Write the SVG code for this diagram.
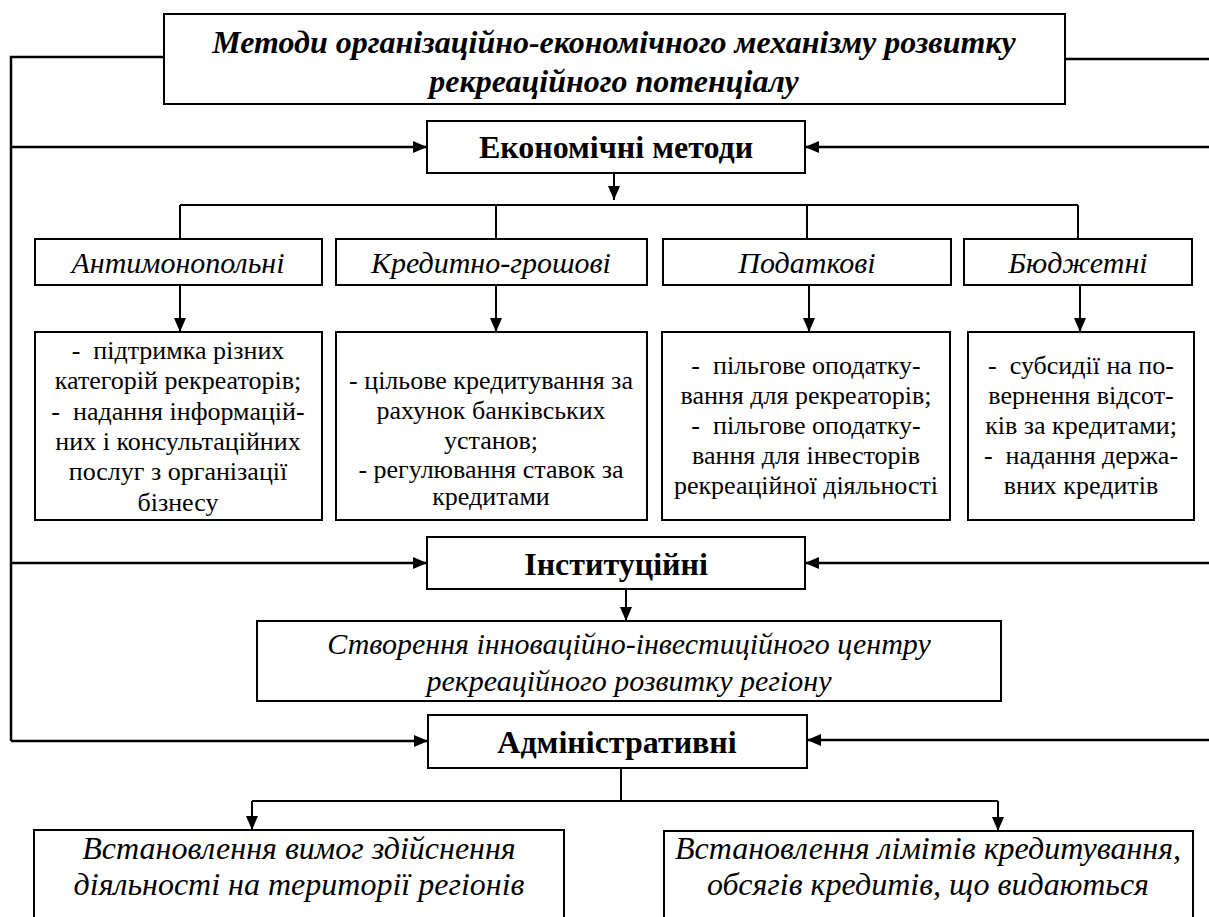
<svg xmlns="http://www.w3.org/2000/svg" width="1209" height="917" viewBox="0 0 1209 917">
<style>
.box{fill:#fff;stroke:#000;stroke-width:2}
.ln{fill:none;stroke:#000;stroke-width:2}
.lw{fill:none;stroke:#000;stroke-width:2.5}
text{font-family:"Liberation Serif","Times New Roman",serif;fill:#000;text-anchor:middle;white-space:pre}
.ti{font-size:32px;font-weight:bold;font-style:italic}
.hb{font-size:32px;font-weight:bold}
.it{font-size:30px;font-style:italic}
.ib{font-size:32px;font-style:italic}
.rg{font-size:26px}
</style>
<defs>
<marker id="ah" markerUnits="userSpaceOnUse" markerWidth="14" markerHeight="12" refX="14" refY="6" orient="auto">
<path d="M0,0 L14,6 L0,12 z" fill="#000"/>
</marker>
</defs>
<g id="connectors">
<polyline class="lw" points="164,57 11,57 11,741"/>
<line class="lw" x1="1065" y1="59" x2="1209" y2="59"/>
<line class="lw" x1="11" y1="147" x2="427" y2="147" marker-end="url(#ah)"/>
<line class="lw" x1="1209" y1="147" x2="805" y2="147" marker-end="url(#ah)"/>
<line class="ln" x1="614" y1="173" x2="614" y2="200" marker-end="url(#ah)"/>
<line class="ln" x1="180" y1="205" x2="1078" y2="205"/>
<line class="ln" x1="180" y1="205" x2="180" y2="239"/>
<line class="ln" x1="496" y1="205" x2="496" y2="239"/>
<line class="ln" x1="807" y1="205" x2="807" y2="239"/>
<line class="ln" x1="1078" y1="205" x2="1078" y2="239"/>
<line class="ln" x1="180" y1="285" x2="180" y2="332" marker-end="url(#ah)"/>
<line class="ln" x1="496" y1="285" x2="496" y2="332" marker-end="url(#ah)"/>
<line class="ln" x1="809" y1="285" x2="809" y2="332" marker-end="url(#ah)"/>
<line class="ln" x1="1080" y1="285" x2="1080" y2="332" marker-end="url(#ah)"/>
<line class="lw" x1="11" y1="563" x2="427" y2="563" marker-end="url(#ah)"/>
<line class="lw" x1="1209" y1="563" x2="805" y2="563" marker-end="url(#ah)"/>
<line class="ln" x1="626" y1="589" x2="626" y2="621" marker-end="url(#ah)"/>
<line class="lw" x1="11" y1="741" x2="428" y2="741" marker-end="url(#ah)"/>
<line class="lw" x1="1209" y1="740" x2="807" y2="740" marker-end="url(#ah)"/>
<line class="ln" x1="621" y1="768" x2="621" y2="801"/>
<line class="ln" x1="252" y1="801" x2="998" y2="801"/>
<line class="ln" x1="252" y1="801" x2="252" y2="830" marker-end="url(#ah)"/>
<line class="ln" x1="998" y1="801" x2="998" y2="831" marker-end="url(#ah)"/>
</g>
<g id="title">
<rect class="box" x="164" y="14" width="901" height="90"/>
<text class="ti" x="614" y="53">Методи організаційно-економічного механізму розвитку</text>
<text class="ti" x="614" y="92">рекреаційного потенціалу</text>
</g>
<g id="economic">
<rect class="box" x="427" y="121" width="378" height="52"/>
<text class="hb" x="616" y="158">Економічні методи</text>
</g>
<g id="antimono">
<rect class="box" x="35" y="239" width="287" height="46"/>
<text class="it" x="178" y="273">Антимонопольні</text>
</g>
<g id="credit">
<rect class="box" x="336" y="239" width="311" height="46"/>
<text class="it" x="491" y="273">Кредитно-грошові</text>
</g>
<g id="tax">
<rect class="box" x="663" y="239" width="288" height="46"/>
<text class="it" x="807" y="273">Податкові</text>
</g>
<g id="budget">
<rect class="box" x="964" y="239" width="228" height="46"/>
<text class="it" x="1078" y="273">Бюджетні</text>
</g>
<g id="antimono-list">
<rect class="box" x="35" y="332" width="287" height="188"/>
<text class="rg" x="178" y="359">-  підтримка різних</text>
<text class="rg" x="178" y="389">категорій рекреаторів;</text>
<text class="rg" x="178" y="420">-  надання інформацій-</text>
<text class="rg" x="178" y="450">них і консультаційних</text>
<text class="rg" x="178" y="480">послуг з організації</text>
<text class="rg" x="178" y="511">бізнесу</text>
</g>
<g id="credit-list">
<rect class="box" x="336" y="332" width="311" height="188"/>
<text class="rg" x="491" y="389">- цільове кредитування за</text>
<text class="rg" x="491" y="419">рахунок банківських</text>
<text class="rg" x="491" y="449">установ;</text>
<text class="rg" x="491" y="478">- регулювання ставок за</text>
<text class="rg" x="491" y="505">кредитами</text>
</g>
<g id="tax-list">
<rect class="box" x="662" y="332" width="288" height="188"/>
<text class="rg" x="806" y="374">-  пільгове оподатку-</text>
<text class="rg" x="806" y="404">вання для рекреаторів;</text>
<text class="rg" x="806" y="434">-  пільгове оподатку-</text>
<text class="rg" x="806" y="464">вання для інвесторів</text>
<text class="rg" x="806" y="494">рекреаційної діяльності</text>
</g>
<g id="budget-list">
<rect class="box" x="968" y="332" width="226" height="188"/>
<text class="rg" x="1081" y="374">-  субсидії на по-</text>
<text class="rg" x="1081" y="404">вернення відсот-</text>
<text class="rg" x="1081" y="434">ків за кредитами;</text>
<text class="rg" x="1081" y="464">-  надання держа-</text>
<text class="rg" x="1081" y="494">вних кредитів</text>
</g>
<g id="institutional">
<rect class="box" x="427" y="537" width="378" height="52"/>
<text class="hb" x="616" y="575">Інституційні</text>
</g>
<g id="center">
<rect class="box" x="257" y="621" width="744" height="80"/>
<text class="it" x="629" y="654">Створення інноваційно-інвестиційного центру</text>
<text class="it" x="629" y="691">рекреаційного розвитку регіону</text>
</g>
<g id="administrative">
<rect class="box" x="428" y="715" width="379" height="53"/>
<text class="hb" x="617" y="753">Адміністративні</text>
</g>
<g id="requirements">
<rect class="box" x="34" y="830" width="530" height="100"/>
<text class="ib" x="299" y="859">Встановлення вимог здійснення</text>
<text class="ib" x="299" y="895">діяльності на території регіонів</text>
</g>
<g id="limits">
<rect class="box" x="664" y="831" width="529" height="100"/>
<text class="ib" x="928" y="859">Встановлення лімітів кредитування,</text>
<text class="ib" x="928" y="895">обсягів кредитів, що видаються</text>
</g>
</svg>
